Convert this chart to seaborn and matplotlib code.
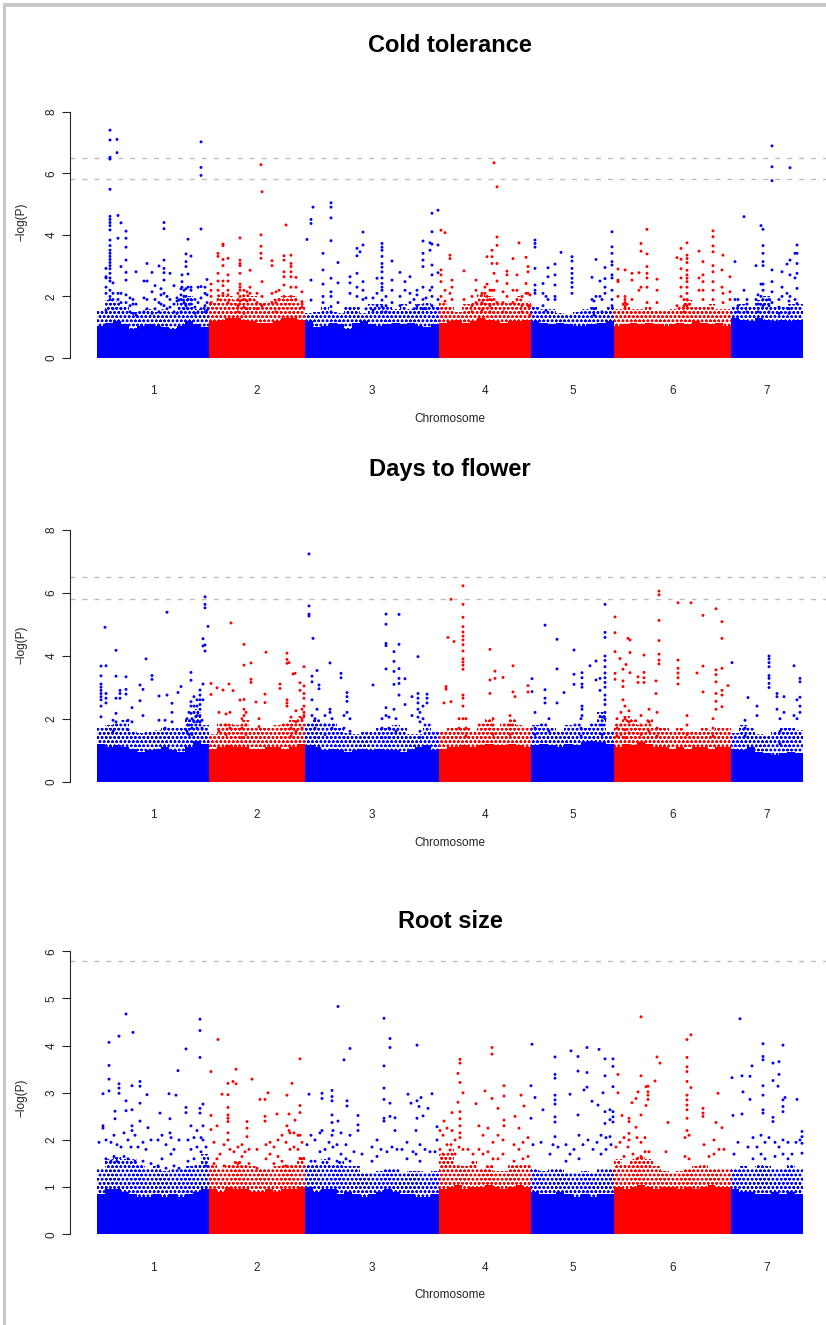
import numpy as np
import pandas as pd
import matplotlib
matplotlib.use("Agg")
import matplotlib.pyplot as plt
from matplotlib.patches import Rectangle
import seaborn as sns

# ---------- data ----------
chrom_labels = ["1", "2", "3", "4", "5", "6", "7"]
chrom_lengths = [112, 96, 134, 92, 83, 117, 72]
chrom_bins = [14, 12, 17, 12, 10, 15, 9]

# height of the near-solid mass of SNPs, bin by bin along the genome
cold_band = [1.05,1.15,1.2,1.1,0.95,1.05,1.1,1.05,1.0,0.95,1.05,1.2,1.1,1.0,
             1.2,1.25,1.3,1.3,1.25,1.2,1.15,1.15,1.2,1.3,1.3,1.25,
             1.2,1.0,1.05,1.15,1.1,0.95,1.15,1.2,1.1,1.05,1.1,1.15,1.1,1.15,1.05,1.0,1.1,
             1.15,1.2,1.25,1.15,1.2,1.3,1.25,1.2,1.15,1.2,1.2,1.25,
             1.2,1.15,1.1,1.15,1.1,1.05,1.05,1.1,1.15,1.2,
             1.05,1.1,1.15,1.1,1.15,1.1,1.05,1.1,1.15,1.1,1.2,1.15,1.1,1.15,1.05,
             1.3,1.25,1.2,1.3,1.25,1.2,1.25,1.2,1.25]
flower_band = [1.2,1.1,1.15,1.1,1.05,0.95,1.0,1.05,1.1,1.0,0.95,1.1,1.3,1.2,
               1.05,1.1,1.15,1.1,1.1,1.05,1.05,1.1,1.1,1.05,1.1,1.2,
               1.15,1.1,1.0,1.05,1.0,0.95,1.0,1.05,1.0,1.05,1.0,1.0,0.95,1.05,1.1,1.15,1.0,
               1.05,1.1,1.1,1.15,1.1,1.15,1.2,1.15,1.15,1.2,1.15,1.1,
               1.15,1.2,1.15,1.1,1.2,1.15,1.25,1.3,1.25,1.2,
               1.1,1.2,1.15,1.25,1.2,1.1,1.1,1.05,1.1,1.05,1.1,1.1,1.05,1.1,1.1,
               1.05,1.0,1.1,0.95,0.9,0.85,0.9,0.95,0.9]
root_band = [0.85,0.95,0.95,0.9,0.85,0.8,0.8,0.85,0.8,0.85,0.8,0.85,0.9,0.95,
             0.95,0.9,1.0,0.95,0.95,0.9,0.9,0.95,0.9,0.95,0.95,1.0,
             1.0,0.9,0.95,0.95,0.85,0.9,0.85,0.8,0.85,0.9,0.95,0.9,0.85,0.85,0.8,0.8,0.85,
             0.95,1.0,1.05,0.95,1.0,1.0,1.05,1.0,0.95,1.0,1.05,1.0,
             0.9,0.85,0.85,0.9,0.85,0.8,0.85,0.8,0.85,0.85,
             1.0,0.95,1.0,1.05,1.0,0.95,1.0,1.0,0.95,1.0,0.95,1.0,1.05,1.0,1.0,
             0.95,0.9,0.9,0.85,0.85,0.9,0.85,0.9,0.85]

# height up to which SNPs are still thick on the ground, bin by bin
cold_sparse = [1.55,1.9,1.85,1.7,1.5,1.55,1.6,1.5,1.6,1.5,1.95,2.0,1.6,1.7,
               1.85,2.1,2.0,1.9,2.1,2.0,1.8,1.85,1.95,2.0,2.0,1.85,
               1.45,1.5,1.7,1.5,1.45,1.7,1.7,1.45,1.75,1.75,1.7,1.6,1.75,1.6,1.75,1.8,1.65,
               1.85,1.65,1.5,1.75,1.8,2.1,2.0,1.85,1.8,1.85,2.0,1.85,
               1.65,1.6,1.6,1.45,1.4,1.5,1.6,1.65,1.55,1.7,
               1.6,1.85,1.6,1.6,1.7,1.55,1.55,1.6,1.7,1.9,1.7,1.7,1.75,1.6,1.6,
               1.7,1.75,1.7,1.9,2.0,1.7,1.7,1.75,1.75]
flower_sparse = [1.7,1.8,1.9,1.95,1.6,1.55,1.6,1.65,1.75,1.7,1.7,2.0,2.3,1.8,
                 1.5,1.9,1.85,1.8,1.95,1.75,1.7,1.7,1.8,1.9,1.95,2.1,
                 1.9,2.0,1.9,1.85,1.7,1.55,1.5,1.6,1.6,1.7,1.7,1.8,1.75,1.5,1.5,1.9,1.6,
                 1.6,1.7,1.7,1.7,1.6,1.9,2.0,1.7,1.9,2.0,1.8,1.7,
                 1.8,1.9,1.7,1.6,1.8,1.9,1.7,1.9,2.2,1.6,
                 1.9,2.1,2.0,1.8,2.0,1.7,1.7,1.6,1.7,1.6,1.6,1.7,1.65,1.7,1.7,
                 1.55,1.8,1.7,1.5,1.45,1.6,1.7,1.7,1.65]
root_sparse = [1.4,1.6,1.65,1.6,1.6,1.5,1.4,1.45,1.35,1.4,1.4,1.45,1.5,1.7,
               1.5,1.4,1.5,1.55,1.5,1.45,1.4,1.4,1.45,1.5,1.5,1.65,
               1.5,1.5,1.6,1.5,1.55,1.45,1.45,1.3,1.3,1.35,1.4,1.4,1.3,1.35,1.35,1.3,1.35,
               1.7,1.85,1.5,1.45,1.55,1.4,1.5,1.35,1.35,1.5,1.5,1.5,
               1.4,1.35,1.4,1.4,1.3,1.3,1.35,1.3,1.4,1.4,
               1.6,1.5,1.6,1.65,1.6,1.45,1.35,1.3,1.35,1.4,1.45,1.5,1.4,1.4,1.4,
               1.4,1.45,1.4,1.5,1.45,1.4,1.4,1.5,1.4]

# tall columns of SNPs: (genome position, [-log P values])
cold_peaks = [
 (13,[7.40,7.08,6.52,6.46,5.48,4.6,4.5,4.4,4.3,4.16,3.83,3.65,3.5,3.4,3.3,3.2,3.1,3.0,2.9,2.75,2.6,2.5,2.2,2.0,1.9]),
 (20,[7.1,6.67]),(21,[4.63,3.89,2.1,1.9]),(24,[4.39,2.97,2.1,1.8,1.6]),(29,[4.12,3.89,3.6,3.18,2.78,2.53,2.05,1.8]),
 (9,[2.91,2.64,2.6,2.3,2.1,1.55]),(16,[2.44,2.1,1.9,1.6]),(39,[2.8,1.75,1.4]),(50,[3.07,2.5,1.9,1.6]),(47,[2.5,1.95,1.5]),
 (55,[2.78,2.15,1.45]),(62,[2.99,1.8,1.5]),(67,[4.4,4.2,3.18,2.91,2.77,2.53,2.1,1.7]),(73,[2.75,1.9,1.65]),
 (85,[2.7,2.48,2.3]),(89,[3.38,3.13,2.97,2.25,2.0,1.7]),(91,[3.86,2.73,2.3,1.9,1.6]),(94,[3.31,2.3,2.2,1.9,1.75]),
 (104,[7.02,6.19,5.93,4.19,2.32,1.95,1.6]),(110,[2.55,2.05,1.8,1.55]),
 (114,[2.4,2.2,2.0,1.8]),(121,[3.4,3.3,2.75,2.5,2.2,1.9]),(126,[3.7,3.65,3.2,3.0,2.5,2.35,2.1]),(131,[3.24,2.7,2.5,2.2,2.05,1.8]),
 (143,[3.9,3.18,3.07,3.0,2.75,2.4,2.3,2.2,2.0,1.85]),(153,[2.85,2.3,2.1,1.9]),
 (164,[6.28,4.0,3.63,3.4,3.24]),(165,[5.4,2.48,2.0,1.7]),(175,[3.16,3.0,2.1,1.8]),(187,[3.32,3.18,2.8,2.64,2.37,2.0]),(189,[4.32]),
 (194,[3.34,3.07,2.97,2.8,2.64,2.3,2.0]),(199,[2.62,2.3,1.9]),(205,[2.15,1.83,1.65]),
 (210,[3.85]),(214,[4.5,4.37,2.53,1.88]),(216,[4.9]),(226,[3.4,2.86,2.4,2.0,1.8]),(234,[5.04,4.9,4.55,3.81,2.59,2.15,2.0,1.67,1.5]),
 (241,[3.1,2.44,1.8]),(253,[2.64,2.44,2.1,1.6]),(260,[3.56,3.32,2.75,2.3,2.0]),(263,[3.45]),(266,[4.09,3.67,2.48,2.2,1.9]),
 (285,[3.72,3.6,3.5,3.3,3.07,2.95,2.8,2.6,2.42,2.3,2.2,1.88,1.67,1.5]),(295,[3.15,2.53,2.2,1.8]),(280,[2.59,2.1,1.7]),
 (303,[2.78,2.0,1.7]),(308,[2.48,2.2]),(313,[2.64,2.1,1.8]),(320,[2.2,2.05,1.7]),
 (326,[3.8,3.4,3.18,2.97,2.3,1.9,1.6]),(335,[4.7,4.1,3.7,3.02,2.7,2.3,2.0,1.7]),(333,[3.74,3.5,2.2]),(341,[4.8,3.67,2.77,1.9,1.6]),
 (344,[4.15,2.86,2.7,2.48,2.0]),(348,[4.07,2.2,1.85]),(353,[3.34,3.23,2.1]),(355,[2.53,2.3,1.9]),(367,[2.83,1.9]),(379,[2.53,2.2,1.8]),
 (388,[2.3,2.1,1.75]),(390,[3.29,2.4,2.0]),(395,[3.5,3.29,3.07,2.2]),(397,[6.34,2.75,2.2,1.9]),(400,[5.56,3.93,3.66,3.07,2.5,1.8]),
 (410,[2.82,2.7,2.42,2.0]),(416,[3.23,2.2,1.8]),(420,[2.7,2.2,1.9]),(422,[3.74]),(429,[3.27,2.42,2.1]),(431,[2.97,2.8,2.1,1.7]),
 (438,[3.83,3.72,3.6,2.91,2.37,2.2,2.1]),(446,[2.42,2.1,1.7]),(451,[2.93,2.64,1.9]),(458,[3.05,2.7,2.37,2.0,1.9]),(464,[3.43]),
 (475,[3.29,3.15,2.91,2.75,2.59,2.45,2.3,2.1]),(495,[2.62,1.9]),(499,[3.2,2.0]),(503,[2.5,2.0]),(508,[2.94,2.58,2.3,2.1]),
 (515,[4.1,3.61,3.4,3.13,3.02,2.7,2.6,2.2,1.9,1.7]),
 (521,[2.89,2.53,2.48,2.0]),(528,[2.86,2.0,1.9,1.8,1.7,1.6]),(535,[2.75,2.53,1.9]),(542,[2.77,2.2]),(544,[3.72,3.47,2.3]),
 (550,[4.18,3.38,2.97,2.75,2.6,2.3,1.8]),(560,[2.56,2.2,1.8]),(580,[3.26,1.7]),(584,[3.56,3.21,2.9,2.6,2.3,2.0]),
 (590,[3.74,3.34,3.23,3.1,2.85,2.7,2.59,2.48,2.3,2.1,1.9,1.7]),(602,[3.47,2.6,2.2]),(606,[3.13,2.7,2.48,2.2,1.9]),
 (616,[4.13,3.94,3.64,3.45,3.0,2.8,2.48,2.2,1.9]),(626,[3.34,2.1,1.8]),(625,[2.86,2.3]),(633,[2.64,2.15,1.9]),
 (638,[3.13,1.9]),(647,[4.59,2.2]),(659,[3.0,1.9]),(664,[4.3,2.4,2.0]),(666,[4.18,3.65,3.4,3.13,3.0,2.4,2.2,1.9,1.7]),
 (675,[6.89,6.21,5.76,2.86,2.48,2.15,1.8]),(685,[2.8,2.3,2.0]),(690,[3.05,2.1]),(693,[6.18,3.18,2.7,2.0]),
 (700,[3.67,3.4,3.07,2.75,2.26,1.77]),(698,[3.4,2.6,1.9]),
]
cold_mid = [
 (33,[1.95,1.7,1.5]),(36,[1.9,1.75,1.45]),(58,[2.35,1.9,1.6]),
 (64,[2.25,2.05,1.75]),(70,[2.0,1.6]),(77,[2.35,1.75,1.5]),(80,[1.95,1.85,1.45]),(84,[2.25,2.05,1.9,1.5]),(87,[2.2,2.0,1.8,1.6]),(98,[1.9,1.65,1.45]),(101,[2.3,1.8,1.5]),(108,[2.3,2.1,1.7,1.5]),
 (141,[2.1,1.9,1.7,1.5]),(147,[2.2,1.9,1.65,1.45]),(150,[2.15,1.85,1.6]),(160,[2.1,1.8,1.6]),(179,[2.15,1.8,1.5]),(182,[2.2,1.9,1.6]),
 (269,[1.95,1.6]),(276,[1.95,1.55]),(289,[2.0,1.7,1.5]),(317,[1.9,1.6]),(329,[1.95,1.6]),
 (375,[2.0,1.7,1.5]),(385,[2.1,1.8,1.55]),(393,[2.2,1.9,1.7,1.5]),(406,[2.15,1.8,1.5]),(425,[2.0,1.7,1.5]),(433,[2.05,1.7,1.4]),
 (449,[2.0,1.55]),(497,[1.85,1.6,1.4]),(505,[1.9,1.5]),
 (587,[1.9,1.7,1.5]),(641,[1.9,1.7,1.5]),(650,[1.9,1.75,1.5]),(661,[2.05,1.75,1.5]),(672,[1.9,1.7,1.5]),(682,[1.9,1.65,1.45]),(692,[1.85,1.6,1.45]),
]
flower_peaks = [
 (8,[4.9]),(4,[3.67,3.36,3.1,3.0,2.9,2.8,2.7,2.6,2.4,2.06]),(9,[3.68,2.8,2.65,2.5]),(19,[4.17,3.35,2.65,2.17,1.9]),(23,[2.9,2.8,2.65]),
 (29,[3.33,2.93,2.78]),(35,[2.35,1.9]),(43,[3.07,2.57]),(46,[2.93,2.1]),(49,[3.9]),(55,[3.37,3.25]),(62,[2.72,1.95]),(70,[5.38,2.75]),
 (75,[2.49,2.2,1.9]),(84,[3.02]),(81,[2.83]),(94,[3.47,3.22,2.54,2.4,2.17]),(106,[4.54,4.31,3.1,2.6]),(103,[2.91,2.75,2.6,2.45,2.3,2.1,1.9]),
 (108,[5.87,5.63,5.52,4.34,4.15]),(111,[4.93]),(100,[2.6,2.4,2.1,1.9,1.7]),(97,[2.7,2.4,2.2,1.9]),
 (114,[3.12,2.77]),(120,[2.98]),(126,[2.91]),(132,[3.1]),(134,[5.04]),(136,[2.89]),(147,[4.36,3.7,2.61,2.3,2.1]),(143,[2.59]),
 (154,[3.77,3.25,3.15]),(159,[2.53]),(169,[4.11]),(168,[2.78,2.51]),(183,[3.1,2.96]),(190,[4.08,3.88,3.76,2.6,2.5,2.4]),(192,[3.78]),
 (196,[3.42]),(198,[3.44]),(203,[3.14,2.9]),(207,[3.65,3.04,2.8,2.65,2.4,2.2,2.1]),
 (212,[7.23,5.58,5.32,5.26]),(216,[4.55]),(215,[3.35,3.17,2.6,2.1]),(220,[3.53,2.3]),(222,[3.07,2.95]),(233,[3.77,2.3,2.2]),
 (244,[3.44,3.3]),(250,[2.83,2.7,2.55,2.2]),(276,[3.07]),(289,[5.32,5.0,4.39,4.32,3.58,2.35,2.1]),(297,[4.13,3.82,3.5,3.09,2.3]),
 (302,[5.31,4.36,3.59,3.28,3.12,2.75]),(308,[3.27,2.45]),(321,[3.97,2.8,2.65,2.5,2.3,2.05]),(330,[2.78,2.65,2.5]),(315,[2.7,2.1]),(326,[2.4,2.0]),
 (349,[3.02,2.94]),(351,[4.58]),(357,[4.45]),(354,[5.79,2.54]),(347,[2.5]),
 (366,[6.22,5.63,5.22,4.92,4.75,4.62,4.5,4.35,4.15,3.9,3.8,3.7,3.57,2.75,2.65,2.4,2.0]),
 (393,[4.2,3.23,2.8]),(398,[3.51,3.28]),(406,[3.31]),(416,[3.68,2.85]),(431,[3.05,2.85]),(418,[2.7]),
 (435,[3.27,2.86]),(448,[4.97,2.92,2.65,2.5]),(460,[4.52,3.58,2.5]),(467,[2.83]),(477,[4.18,3.41,3.09]),
 (485,[3.46,3.3,3.1,3.0,2.4,2.3,2.1]),(493,[3.68]),(499,[3.83,3.23]),(503,[3.28,2.9]),
 (508,[5.63,4.74,4.58,3.99,3.85,3.65,3.45,3.3,3.15,3.0,2.75,2.6,2.45,2.2,2.0]),
 (518,[5.23,4.73,4.13,3.44,3.25]),(523,[3.91]),(531,[4.55]),(533,[4.5,4.1,3.46]),(529,[3.72]),(526,[3.57,3.2,3.02,2.6]),
 (541,[3.33,3.15]),(547,[4.02,3.47,3.3,3.15]),(559,[3.2,2.8]),(562,[6.05,5.93,5.12,4.48,4.05,3.86,3.74]),(581,[5.68,3.86,3.6,3.45,3.3,3.1]),
 (594,[5.68]),(606,[5.28,3.67,2.85]),(619,[5.49,3.55,3.4,3.17,2.8,2.55,2.3]),(625,[5.08,4.55,3.6,2.9,2.75,2.38]),(635,[3.78]),(631,[3.05]),(600,[3.45]),
 (651,[2.67]),(672,[3.99,3.9,3.78,3.65,3.37,3.28,3.12,2.99]),(680,[2.8,2.7,2.3]),(687,[2.7,2.2]),(697,[3.68,2.1]),(703,[3.28,3.17,2.68,2.4,2.2]),(700,[2.6,2.0]),(660,[2.4,2.1]),
]
flower_mid = [
 (16,[1.95,1.6]),(31,[1.95,1.65]),(68,[1.95,1.7]),(90,[2.0,1.6]),(92,[2.2,1.8,1.5]),(95,[2.0,1.7,1.5]),(105,[1.95,1.7,1.4]),
 (122,[2.2,1.6]),(129,[2.15,1.8,1.5]),(133,[2.2,1.7]),(145,[2.0,1.7,1.4]),(149,[2.2,1.8,1.5]),(162,[2.0,1.75]),(194,[2.05,1.7,1.45]),(199,[2.25,1.9,1.6]),(205,[2.3,2.0,1.7]),
 (218,[2.0,1.7,1.4]),(228,[2.1,1.8,1.5]),(235,[2.0,1.7]),(247,[2.1,1.7,1.4]),(253,[2.0,1.6]),(285,[2.0,1.7,1.4]),(292,[2.05,1.7,1.4]),(299,[2.0,1.6]),(323,[2.2,1.9,1.6,1.4]),
 (362,[2.0,1.7]),(369,[2.0,1.7,1.45]),(396,[2.0,1.8,1.5]),(413,[2.1,1.8,1.5]),
 (438,[2.2,1.7,1.5]),(452,[2.0,1.6]),(484,[2.0,1.7,1.45]),(505,[2.05,1.8,1.5]),
 (520,[2.0,1.7,1.45]),(524,[2.2,1.8,1.5]),(528,[2.4,2.0,1.65,1.4]),(532,[2.25,1.9,1.55]),(544,[2.1,1.8,1.5]),(552,[2.3,1.9,1.6]),(560,[2.2,1.7,1.45]),(590,[2.1,1.8,1.5]),(616,[2.0,1.7,1.45]),
 (648,[1.95,1.7,1.45]),(683,[2.0,1.6,1.2]),
]
root_peaks = [
 (29,[4.67,2.83,2.62]),(22,[4.2,3.19,3.1,2.99]),(36,[4.28]),(12,[4.07,3.58,3.29,3.04]),(6,[2.98,2.3,2.25]),(35,[3.15,2.64,2.3,2.2]),
 (43,[3.24,3.14,2.78,2.4]),(18,[2.61,2.45]),(50,[2.96]),(72,[2.98]),(79,[2.95]),(81,[3.47]),(89,[3.93,2.69,2.58]),(103,[4.56,4.32,3.75,2.67,2.57]),
 (106,[2.76,2.3,2.0]),(63,[2.57]),(73,[2.45,2.15]),(51,[2.26]),
 (114,[3.45,2.52,2.22]),(121,[4.13]),(125,[2.97]),(131,[3.2,2.96,2.69,2.53,2.46,2.39,2.15,2.0]),(136,[3.24]),(139,[3.5,3.19]),(155,[3.29]),
 (150,[2.39,2.25,2.07]),(163,[2.86]),(168,[2.86,2.5,2.4]),(171,[3.0]),(180,[2.55]),(190,[2.95,2.3]),(195,[3.2]),(192,[2.55,2.2]),(198,[2.42]),(203,[3.72,2.73,2.58,2.1]),
 (212,[2.97]),(225,[2.99,2.88,2.2]),(235,[3.05,2.92,2.83,2.53,2.37,2.1]),(241,[4.83,2.4]),(247,[3.7]),(250,[2.83,2.72]),(253,[3.94]),(261,[2.52,2.32,2.2]),
 (287,[4.58,3.57,3.1,2.86,2.46,2.4]),(293,[4.15,3.96,2.78,2.5]),(298,[2.47,2.2]),(311,[2.97]),(314,[2.78]),(320,[4.01,2.83,2.46]),
 (324,[2.9]),(331,[2.67]),(335,[2.98]),(322,[2.71]),(326,[2.51]),(340,[2.28,2.0]),
 (363,[3.71,3.63,3.22,2.6,2.45,2.3,2.15,2.05]),(361,[3.41,2.8]),(366,[3.0]),(355,[2.58,2.2]),(347,[2.4]),(395,[3.96,3.82,2.88]),(388,[3.04]),(379,[2.77]),
 (407,[3.15,2.93,2.42,2.3]),(424,[2.95]),(427,[2.72]),(434,[3.15,2.46]),(418,[2.5]),(401,[2.67]),
 (435,[4.03]),(438,[2.9]),(446,[2.64]),(458,[3.76,3.39,3.31,2.95,2.85,2.76,2.49,2.38,2.07]),(474,[3.89]),(481,[3.77,3.46,2.53]),(473,[2.97]),
 (490,[3.96,3.43,3.12]),(487,[3.06]),(502,[3.92]),(508,[3.72,3.36,2.6,2.35]),(495,[2.82]),(501,[2.74]),(506,[3.0]),(516,[3.72,3.56,3.13,2.6,2.49,2.38]),(513,[2.64,2.43,2.07]),
 (521,[3.39,3.0]),(525,[2.52]),(532,[2.46,2.39,2.14,2.0]),(544,[4.61,3.36,2.53]),(535,[2.79]),(539,[2.88,2.27]),(541,[3.02]),(551,[3.14,3.02,2.95,2.86]),(549,[3.13,2.73]),
 (558,[3.25]),(560,[3.76]),(563,[3.63]),(571,[2.37]),(590,[4.13,3.75,3.55,3.45,3.24,2.95,2.85,2.74,2.64,2.46,2.2]),(594,[4.23,3.11]),(606,[2.67,2.57,2.5]),
 (621,[2.99]),(635,[3.32]),(619,[2.37]),(625,[2.26]),
 (643,[4.57]),(645,[3.36,2.55]),(646,[3.02]),(653,[3.35,2.86]),(655,[3.57]),(666,[4.04,3.77,3.7,3.15,2.95,2.64,2.57]),(676,[3.63,3.26,2.48,2.39]),
 (682,[3.66,3.39]),(681,[3.14]),(686,[4.01,2.85,2.71,2.6]),(688,[2.9]),(700,[2.86]),(636,[2.52]),(705,[2.18,2.07,1.93,1.72]),
]
root_mid = [
 (2,[1.95]),(9,[2.0,1.6]),(14,[1.95,1.55]),(17,[2.1,1.65]),(20,[1.9,1.55]),(24,[1.85]),(27,[2.15,1.65]),(31,[2.0,1.6]),(34,[1.85]),(38,[2.1,1.55]),(41,[1.85]),(46,[1.95,1.55]),(49,[1.8]),(54,[2.0,1.5]),(61,[2.0,1.45]),(65,[2.1,1.6]),(69,[1.9,1.4]),(74,[2.05,1.7]),(77,[1.8,1.45]),(82,[2.0,1.4]),(91,[2.0,1.55]),(94,[2.3,1.8]),(97,[2.05,1.6]),(100,[2.2,1.85]),(104,[2.05,1.75]),(109,[1.85,1.45]),
 (117,[1.95,1.5]),(120,[2.3,1.6]),(123,[1.7]),(127,[1.9,1.45]),(133,[1.8]),(137,[1.75]),(141,[1.85,1.5]),(145,[1.9,1.65]),(148,[1.75]),(152,[1.8,1.5]),(160,[1.8,1.4]),(169,[1.9,1.6]),(173,[1.95,1.7]),(177,[1.85,1.5]),(181,[2.0,1.65]),(185,[2.1,1.55]),(189,[1.95,1.45]),(193,[2.15,1.8]),(197,[2.15,1.85]),(201,[2.1,1.8]),(205,[1.95,1.6]),
 (210,[1.9]),(214,[2.1,1.55]),(218,[2.0,1.55]),(223,[2.15,1.75]),(228,[1.8]),(232,[1.95,1.6]),(236,[2.2,1.85]),(240,[1.9,1.55]),(244,[2.15,1.7]),(249,[1.9,1.6]),(253,[2.1,1.55]),(257,[1.75]),(265,[1.7]),(275,[1.85,1.55]),(280,[2.0,1.65]),(284,[1.8]),(290,[1.75]),(295,[1.85]),(300,[1.8]),(305,[1.8]),(310,[1.95,1.6]),(316,[1.75]),(319,[2.2,1.7]),(323,[1.9,1.55]),(328,[1.8]),(333,[1.75]),(338,[1.75]),
 (343,[2.2,1.8]),(346,[2.1,1.7]),(350,[2.25,1.9]),(354,[1.9]),(358,[2.0,1.7]),(362,[1.85]),(366,[1.8]),(371,[1.8]),(376,[1.7]),(382,[2.3,1.8]),(386,[2.1,1.7]),(391,[2.25,1.75]),(396,[1.95,1.6]),(401,[2.1,1.6]),(406,[2.0,1.7]),(417,[1.9,1.55]),(422,[2.25,1.8]),(426,[1.95,1.6]),(431,[2.05,1.65]),
 (436,[1.9]),(444,[1.95]),(453,[1.7]),(456,[1.9]),(461,[1.85]),(469,[1.9,1.55]),(473,[1.7]),(477,[1.8]),(482,[2.1,1.6]),(486,[1.9]),(491,[2.0]),(496,[1.8]),(500,[1.95]),(504,[2.1,1.7]),(509,[2.05,1.8]),(514,[1.9]),
 (519,[1.85]),(523,[1.95]),(527,[2.05,1.65]),(531,[1.85]),(536,[1.7]),(540,[2.05,1.6]),(544,[1.95,1.65]),(548,[2.05,1.75]),(552,[1.75]),(569,[1.75]),(588,[2.05,1.65]),(592,[2.1,1.6]),(607,[1.9]),(612,[1.65]),(617,[2.0,1.7]),(622,[1.8]),(627,[1.8]),
 (637,[1.7]),(641,[1.95]),(651,[1.85]),(656,[2.05,1.6]),(660,[1.85]),(664,[2.1,1.7]),(668,[1.95,1.6]),(672,[2.05]),(678,[1.95,1.65]),(682,[1.85]),(686,[2.0,1.7]),(691,[1.95,1.6]),(695,[1.7]),(699,[1.95]),(703,[2.0]),
]

panel_titles = ["Cold tolerance", "Days to flower", "Root size"]
panel_ymax = [8, 8, 6]
panel_thresholds = [[6.5, 5.8], [6.5, 5.8], [5.8]]

# ---------- layout (reference pixels) ----------
W, H = 826, 1325
PX0 = 97          # pixel column where genome position 0 sits
AX_LEFT, AX_RIGHT = 69.7, 826.0
LAYOUT = [
    dict(top=111.7, bottom=358.0, title_y=45, xtick_y=390.5, xlabel_y=419, ylabel_y=222),
    dict(top=529.7, bottom=781.7, title_y=469, xtick_y=814, xlabel_y=843, ylabel_y=645),
    dict(top=951.3, bottom=1234.3, title_y=921, xtick_y=1267, xlabel_y=1295, ylabel_y=1098),
]
BLUE, RED = "#0000FF", "#FF0000"

sns.set_theme(style="ticks")
plt.rcParams["font.family"] = ["Liberation Sans", "DejaVu Sans"]
plt.rcParams["hatch.linewidth"] = 0.7

bounds = np.concatenate([[0], np.cumsum(chrom_lengths)])
mids = (bounds[:-1] + bounds[1:]) / 2
edges = np.unique(np.concatenate([
    np.linspace(bounds[i], bounds[i + 1], chrom_bins[i] + 1) for i in range(len(chrom_lengths))
]))
centres = (edges[:-1] + edges[1:]) / 2


def colour_of(pos):
    idx = np.clip(np.searchsorted(bounds, pos, side="right") - 1, 0, len(chrom_lengths) - 1)
    return np.where(idx % 2 == 0, "a", "b")


def expand(*columns):
    rows = [(p, v) for col in columns for p, vals in col for v in vals]
    df = pd.DataFrame(rows, columns=["pos", "logp"])
    df["group"] = colour_of(df["pos"].to_numpy())
    return df


palette = {"a": BLUE, "b": RED}


def draw_layer(ax, heights, zorder, hatch=None):
    """One filled profile along the genome; optional stippling instead of a flat fill."""
    df = pd.DataFrame({"pos": centres, "height": heights})
    df["group"] = colour_of(centres)
    before = len(ax.collections)
    sns.histplot(data=df, x="pos", weights="height", hue="group", bins=list(edges), palette=palette,
                 hue_order=["a", "b"], element="step", fill=True, alpha=1, linewidth=0,
                 legend=False, ax=ax)
    for coll in ax.collections[before:]:
        coll.set_zorder(zorder)
        if hatch is not None:
            colour = coll.get_facecolor()[0]
            coll.set_hatch(hatch)
            coll.set_edgecolor(colour)
            coll.set_linewidth(0)
            coll.set_facecolor("none")


fig = plt.figure(figsize=(W / 100, H / 100), dpi=100, facecolor="white")
bands = [cold_band, flower_band, root_band]
sparse = [cold_sparse, flower_sparse, root_sparse]
points = [expand(cold_peaks, cold_mid), expand(flower_peaks, flower_mid), expand(root_peaks, root_mid)]

for i, lay in enumerate(LAYOUT):
    ax = fig.add_axes([AX_LEFT / W, 1 - lay["bottom"] / H,
                       (AX_RIGHT - AX_LEFT) / W, (lay["bottom"] - lay["top"]) / H])
    draw_layer(ax, sparse[i], 1.0, hatch="oooo")
    draw_layer(ax, bands[i], 1.1)
    sns.scatterplot(data=points[i], x="pos", y="logp", hue="group", palette=palette,
                    hue_order=["a", "b"], s=4.5, linewidth=0, legend=False, ax=ax,
                    clip_on=False, zorder=2)
    for t in panel_thresholds[i]:
        ax.axhline(t, color="#BEBEBE", lw=1.0, dashes=(3.6, 5.0), zorder=0.5)
    ax.set_xlim(AX_LEFT - PX0, AX_RIGHT - PX0)
    ax.set_ylim(0, panel_ymax[i])
    ax.set_xticks(mids)
    ax.set_xticklabels(chrom_labels)
    ax.set_yticks(np.arange(0, panel_ymax[i] + 1, 2 if panel_ymax[i] == 8 else 1))
    ax.tick_params(axis="x", length=0, labelsize=8.5, labelcolor="#222222",
                   pad=(lay["xtick_y"] - lay["bottom"] - 5) * 0.72)
    ax.tick_params(axis="y", length=5.8, width=0.8, labelsize=8.5, labelcolor="#222222",
                   labelrotation=90, pad=3)
    for lab in ax.get_yticklabels():
        lab.set_va("center")
    for s in ("top", "right", "bottom"):
        ax.spines[s].set_visible(False)
    ax.spines["left"].set_linewidth(0.8)
    ax.set_xlabel("")
    ax.set_ylabel("")
    ax.patch.set_alpha(0)
    fig.text(450 / W, 1 - lay["title_y"] / H, panel_titles[i], ha="center", va="center",
             fontsize=17, fontweight="bold", color="black")
    fig.text(450 / W, 1 - lay["xlabel_y"] / H, "Chromosome", ha="center", va="center",
             fontsize=8.5, color="#222222")
    fig.text(21 / W, 1 - lay["ylabel_y"] / H, "\u2212log(P)", ha="center", va="center",
             rotation=90, fontsize=8.5, color="#222222")

# light grey frame of the source page
fig.add_artist(Rectangle((3.0 / W, 0), 3.3 / W, 1 - 3.3 / H, transform=fig.transFigure, color="#C8C8C8", lw=0))
fig.add_artist(Rectangle((3.0 / W, 1 - 6.6 / H), 1 - 3.0 / W, 3.3 / H, transform=fig.transFigure, color="#C8C8C8", lw=0))

fig.savefig("out.png", dpi=100)
